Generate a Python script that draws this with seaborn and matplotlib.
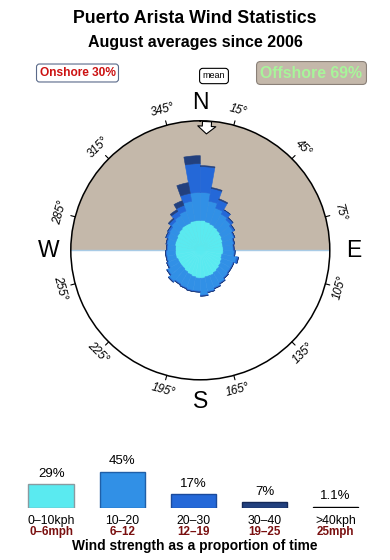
import numpy as np
import matplotlib
matplotlib.use("Agg")
import matplotlib.pyplot as plt
import seaborn as sns
from matplotlib.patches import FancyArrowPatch

sns.set_style("white")
plt.rcParams['font.family'] = ['Liberation Sans', 'DejaVu Sans']
plt.rcParams['text.color'] = 'black'
plt.rcParams['xtick.color'] = 'black'
plt.rcParams['axes.labelcolor'] = 'black'

# ---------------- data ----------------
title = "Puerto Arista Wind Statistics"
subtitle = "August averages since 2006"
onshore_pct = 30
offshore_pct = 69
mean_dir = 3                     # mean wind direction, deg from N

# rose sectors: centre direction (deg clockwise from N)
directions = np.arange(5, 360, 10)
# stacked rose lengths per speed band (rose units, outer ring = 130)
rose_0_10 = [30, 29, 28, 27, 26, 25, 24, 23, 23, 23, 22, 23, 24, 25, 26, 27, 27, 28,
             28, 27, 26, 25, 24, 24, 24, 25, 25, 25, 26, 26, 27, 28, 29, 29, 30, 30]
rose_10_20 = [28, 21, 17, 15, 14, 13, 12, 11, 10, 11, 15, 12, 11, 11, 12, 13, 15, 17,
              13, 14, 14, 14, 17, 14, 11, 9, 9, 8, 8, 9, 9, 10, 11, 13, 20, 28]
rose_20_30 = [26, 13, 9, 5, 3, 2, 1, 1, 1, 1, 2, 1, 1, 1, 1, 1, 1, 1,
              1, 1, 1, 1, 1, 1, 1, 1, 1, 1, 1, 2, 2, 3, 5, 6, 8, 29]
rose_30_40 = [1, 1, 1, 0, 0, 0, 0, 0, 0, 0, 0, 0, 0, 0, 0, 0, 0, 0,
              0, 0, 0, 0, 0, 0, 0, 0, 0, 0, 0, 0, 0, 1, 2, 5, 11, 8]
rose_max = 130

# speed distribution
speed_kph = ["0–10kph", "10–20", "20–30", "30–40", ">40kph"]
speed_mph = ["0–6mph", "6–12", "12–19", "19–25", "25mph"]
speed_pct = [29, 45, 17, 7, 1.1]
pct_labels = ["29%", "45%", "17%", "7%", "1.1%"]

degree_ticks = [15, 45, 75, 105, 135, 165, 195, 225, 255, 285, 315, 345]
cardinals = ["N", "E", "S", "W"]
cardinal_dirs = [0, 90, 180, 270]

# ---------------- styles ----------------
band_fill = ['#5aeaf0', '#3190e6', '#2468d8', '#22407e', '#000000']
band_edge = ['#8a9aa0', '#1f5fa8', '#1a4a9c', '#142858', '#000000']
tan = '#c4b8aa'

fig = plt.figure(figsize=(3.9, 5.6), dpi=100)
W, H = 390, 560

# ---------------- rose ----------------
cx, cy, R = 200.3, 250.3, 129.5
ax = fig.add_axes([(cx - R) / W, (H - cy - R) / H, 2 * R / W, 2 * R / H],
                  projection='polar')
ax.set_theta_zero_location('N')
ax.set_theta_direction(-1)
ax.set_ylim(0, rose_max)
ax.set_xticks([])
ax.set_yticks([])
ax.grid(False)
ax.set_facecolor('white')
ax.spines['polar'].set_linewidth(1.1)
ax.spines['polar'].set_color('black')

# offshore half (tan)
ax.bar(0, rose_max, width=np.pi, bottom=0, color=tan, linewidth=0, zorder=0)
ax.plot([np.pi / 2, 0, 3 * np.pi / 2], [rose_max, 0, rose_max],
        color='#a8cbe6', lw=1.0, zorder=1)

theta = np.deg2rad(directions)
width = np.deg2rad(10)
bottom = np.zeros(len(directions))
for vals, col in zip([rose_0_10, rose_10_20, rose_20_30, rose_30_40], band_fill):
    v = np.array(vals, dtype=float)
    ax.bar(theta, v, width=width, bottom=bottom, color=col, edgecolor=col,
           linewidth=0.4, align='center', zorder=2)
    bottom = bottom + v

# degree ticks and labels
for a in degree_ticks:
    t = np.deg2rad(a)
    ax.plot([t, t], [rose_max, rose_max * 1.035], color='black', lw=0.8,
            clip_on=False, zorder=3)
    rot = ((-a + 90) % 180) - 90
    ax.text(t, rose_max * 1.12, f"{a}°", rotation=rot, rotation_mode='anchor',
            ha='center', va='center', fontsize=8.5, style='italic', clip_on=False)

card_r = [1.145, 1.185, 1.17, 1.17]
for lab, d, rr in zip(cardinals, cardinal_dirs, card_r):
    ax.text(np.deg2rad(d), rose_max * rr, lab, ha='center', va='center',
            fontsize=16.5, clip_on=False)

# mean arrow
arr = FancyArrowPatch((np.deg2rad(mean_dir), rose_max * 0.995),
                      (np.deg2rad(mean_dir), rose_max * 0.9),
                      arrowstyle='simple,head_length=0.55,head_width=1.3,tail_width=0.65',
                      mutation_scale=10, fc='white', ec='black', lw=0.8,
                      shrinkA=0, shrinkB=0, transform=ax.transData, zorder=5,
                      clip_on=False)
ax.add_patch(arr)

# ---------------- top texts ----------------
fig.text(0.5, 1 - 23.3 / H, title, ha='center', va='baseline',
         fontsize=12.8, fontweight='bold')
fig.text(0.5, 1 - 46.7 / H, subtitle, ha='center', va='baseline',
         fontsize=11.5, fontweight='bold')
fig.text(77.5 / W, 1 - 73 / H, f"Onshore {onshore_pct}%", ha='center', va='center',
         fontsize=8.6, fontweight='bold', color='#cc1111',
         bbox=dict(boxstyle='round,pad=0.25', fc='white', ec='#5a6a8a', lw=0.8))
fig.text(214 / W, 1 - 76 / H, "mean", ha='center', va='center', fontsize=6.5,
         bbox=dict(boxstyle='round,pad=0.35', fc='white', ec='black', lw=0.8))
fig.text(311.5 / W, 1 - 73 / H, f"Offshore {offshore_pct}%", ha='center', va='center',
         fontsize=11.4, fontweight='bold', color='#a8f59a',
         bbox=dict(boxstyle='round,pad=0.25', fc=tan, ec='#8a8078', lw=0.8))

# ---------------- speed distribution ----------------
bw = 71.1
ax2 = fig.add_axes([(51.2 - bw / 2) / W, 52.5 / H, 5 * bw / W, 40 / H])
sns.barplot(x=speed_kph, y=speed_pct, hue=speed_kph, palette=band_fill,
            saturation=1, width=0.64, legend=False, ax=ax2)
for p, ec in zip(ax2.patches, band_edge):
    p.set_edgecolor(ec)
    p.set_linewidth(1.0)
for cont, lab in zip(ax2.containers, pct_labels):
    ax2.bar_label(cont, labels=[lab], padding=3, fontsize=9.5, color='black')
ax2.set_xlim(-0.5, 4.5)
ax2.set_ylim(0, 50)
ax2.set_yticks([])
ax2.set_xlabel('')
ax2.set_ylabel('')
ax2.set_xticks(range(len(speed_kph)))
ax2.set_xticklabels(speed_kph, fontsize=8.8, color='black')
ax2.tick_params(axis='x', length=0, pad=5.2)
ax2.patch.set_alpha(0)
sns.despine(ax=ax2, left=True, bottom=True)
for i, m in enumerate(speed_mph):
    ax2.annotate(m, xy=(i, 0), xycoords=('data', 'axes fraction'),
                 xytext=(0, -13.3), textcoords='offset points', ha='center', va='top',
                 fontsize=8.4, fontweight='bold', color='#7a1010', annotation_clip=False)

fig.text(0.5, 1 - 550 / H, "Wind strength as a proportion of time", ha='center',
         va='baseline', fontsize=9.9, fontweight='bold')

fig.savefig('out.png', dpi=100, facecolor='white')
